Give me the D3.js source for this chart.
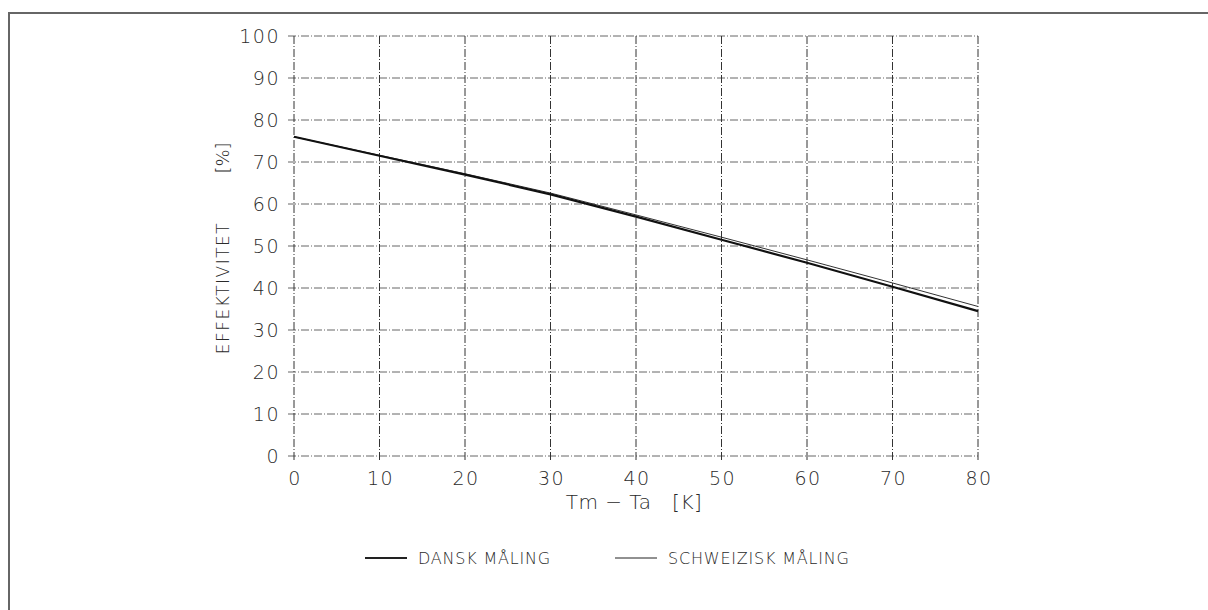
<!DOCTYPE html>
<html>
<head>
    <meta charset="utf-8" />
    <script src="https://d3js.org/d3.v7.min.js"></script>
    <style>
        body { margin: 0; background: #fff; }
        text { font-family: "DejaVu Sans", sans-serif; font-weight: 200; fill: #2a2a2a; }
    </style>
</head>
<body>
<script>
    // data
    const tempDiff = [0, 10, 20, 30, 40, 50, 60, 70, 80];
    const danskEff = [76.0, 71.5, 67.0, 62.3, 57.0, 51.5, 46.0, 40.3, 34.5];
    const schweizEff = [76.0, 71.6, 67.2, 62.6, 57.4, 52.1, 46.7, 41.2, 35.6];
    const xTicks = [0, 10, 20, 30, 40, 50, 60, 70, 80];
    const yTicks = [0, 10, 20, 30, 40, 50, 60, 70, 80, 90, 100];
    const seriesNames = ['DANSK MÅLING', 'SCHWEIZISK MÅLING'];

    const W = 1208, H = 610;
    const svg = d3.select('body').append('svg').attr('width', W).attr('height', H);

    // scan page border
    svg.append('path')
        .attr('d', `M9,${H} L9,13 L${W},13`)
        .attr('fill', 'none')
        .attr('stroke', '#666')
        .attr('stroke-width', 2);

    const x = d3.scaleLinear().domain([0, 80]).range([294, 978]);
    const y = d3.scaleLinear().domain([0, 100]).range([456, 36]);

    // grid, dash-dot like the plotter lines
    svg.append('g').selectAll('line').data(yTicks).enter().append('line')
        .attr('x1', x(0) - 6).attr('x2', x(80))
        .attr('y1', d => y(d)).attr('y2', d => y(d))
        .attr('stroke', '#666')
        .attr('stroke-dasharray', '8,2,1,2');
    svg.append('g').selectAll('line').data(xTicks).enter().append('line')
        .attr('x1', d => x(d)).attr('x2', d => x(d))
        .attr('y1', y(100)).attr('y2', y(0) + 6)
        .attr('stroke', '#333')
        .attr('stroke-dasharray', '8,2,1,2');

    // y tick labels
    svg.append('g').selectAll('text').data(yTicks).enter().append('text')
        .attr('x', 280)
        .attr('y', d => y(d))
        .attr('dy', '0.36em')
        .attr('text-anchor', 'end')
        .style('font-size', '19px')
        .style('letter-spacing', '1.5px')
        .text(d => d);

    // x tick labels
    svg.append('g').selectAll('text').data(xTicks).enter().append('text')
        .attr('x', d => x(d) + 1)
        .attr('y', 485)
        .attr('text-anchor', 'middle')
        .style('font-size', '19px')
        .style('letter-spacing', '1.5px')
        .text(d => d);

    // axis titles
    svg.append('text')
        .attr('x', x(40) - 2)
        .attr('y', 509)
        .attr('text-anchor', 'middle')
        .style('font-size', '20px')
        .style('letter-spacing', '0.5px')
        .style('white-space', 'pre')
        .text('Tm − Ta   [K]');

    svg.append('text')
        .attr('transform', 'translate(229,288) rotate(-90)')
        .attr('text-anchor', 'middle')
        .style('font-size', '17px')
        .style('letter-spacing', '1.5px')
        .text('EFFEKTIVITET');
    svg.append('text')
        .attr('transform', 'translate(229,158) rotate(-90)')
        .attr('text-anchor', 'middle')
        .style('font-size', '18px')
        .text('[%]');

    // curves
    const line = d3.line().x(d => x(d[0])).y(d => y(d[1]));
    svg.append('path')
        .datum(tempDiff.map((t, i) => [t, schweizEff[i]]))
        .attr('d', line)
        .attr('fill', 'none')
        .attr('stroke', '#333')
        .attr('stroke-width', 1);
    svg.append('path')
        .datum(tempDiff.map((t, i) => [t, danskEff[i]]))
        .attr('d', line)
        .attr('fill', 'none')
        .attr('stroke', '#111')
        .attr('stroke-width', 2.2);

    // legend
    const legendX = [365, 615];
    const legendW = [2.2, 1];
    const leg = svg.append('g').selectAll('g').data(seriesNames).enter().append('g')
        .attr('transform', (d, i) => `translate(${legendX[i]},558)`);
    leg.append('line')
        .attr('x1', 0).attr('x2', 42)
        .attr('stroke', '#222')
        .attr('stroke-width', (d, i) => legendW[i]);
    leg.append('text')
        .attr('x', 53)
        .attr('dy', '0.36em')
        .style('font-size', '16px')
        .style('letter-spacing', '0.8px')
        .text(d => d);
</script>
</body>
</html>
